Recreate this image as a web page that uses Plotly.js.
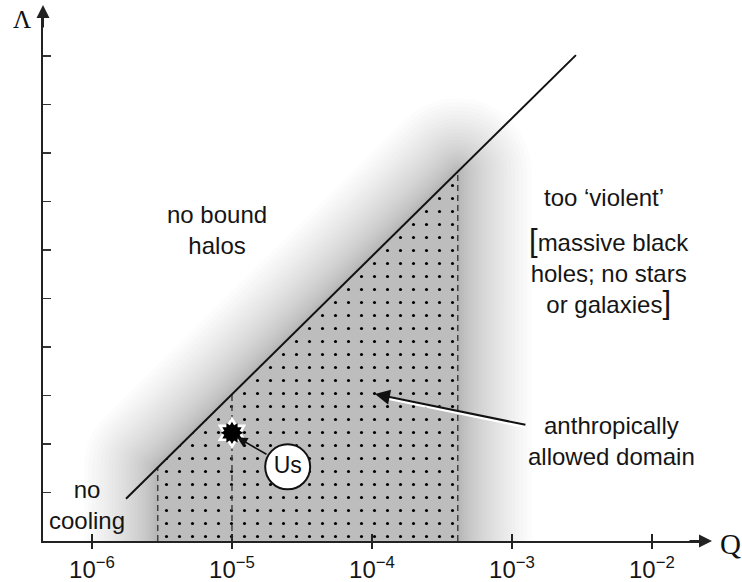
<!DOCTYPE html>
<html><head><meta charset="utf-8">
<script src="https://cdn.plot.ly/plotly-3.0.1.min.js"></script>
<style>body{margin:0;background:#fff}#chart{width:742px;height:582px}</style>
</head><body><div id="chart"></div>
<script>
// ---- data ----
const lineQ = [Math.pow(10,-5.757), Math.pow(10,-2.543)];   // boundary line end points (Q)
const lineL = [0.87, 10.02];                                  // boundary line end points (Lambda)
const domainQ = [2.95e-6, 4.1e-4];                            // anthropic domain Q limits (dashed)
const usQ = 1e-5;                                             // "Us" position
const usL = 2.23;
const usLabelQ = 2.5e-5, usLabelL = 1.53;
const xTickVals = [1e-6, 1e-5, 1e-4, 1e-3, 1e-2];
const xTickText = ['10<sup>−6</sup>','10<sup>−5</sup>','10<sup>−4</sup>','10<sup>−3</sup>','10<sup>−2</sup>'];
const yTickVals = [1,2,3,4,5,6,7,8,9,10];

// ---- layout constants ----
const W = 742, H = 582, mL = 43, mR = 37, mT = 10, mB = 41;
const xr = [-6.35, -1.621], yr = [0, 10.95];
const plotW = W - mL - mR, plotH = H - mT - mB;
const KX = plotW / (xr[1]-xr[0]), KY = plotH / (yr[1]-yr[0]);
const lg = Math.log10;
const u0 = lg(lineQ[0]), u1 = lg(lineQ[1]);
const Lfun = u => lineL[0] + (lineL[1]-lineL[0])*(u-u0)/(u1-u0);
const uL = lg(domainQ[0]), uR = lg(domainQ[1]);

// domain polygon (data)
const domU = [uL, uR, uR, uL];
const domY = [-0.5, -0.5, Lfun(uR), Lfun(uL)];

// expanded polygon (rounded offset) computed in pixel space
function expand(us, ys, r){
  const P = us.map((u,i)=>[u*KX, ys[i]*KY]);
  const n = P.length, outX = [], outY = [];
  for(let i=0;i<n;i++){
    const a = P[(i-1+n)%n], b = P[i], c = P[(i+1)%n];
    const e1 = [b[0]-a[0], b[1]-a[1]], e2 = [c[0]-b[0], c[1]-b[1]];
    let a1 = Math.atan2(-e1[0], e1[1]), a2 = Math.atan2(-e2[0], e2[1]);
    if(a2 < a1) a2 += 2*Math.PI;
    const steps = 12;
    for(let s=0;s<=steps;s++){
      const t = a1 + (a2-a1)*s/steps;
      outX.push(Math.pow(10,(b[0]+r*Math.cos(t))/KX));
      outY.push((b[1]+r*Math.sin(t))/KY);
    }
  }
  outX.push(outX[0]); outY.push(outY[0]);
  return {x: outX, y: outY};
}

const traces = [];
const N = 26, R = 74;
for(let k=1;k<=N;k++){
  const r = R*Math.pow(k/N, 1.5);
  const p = expand(domU, domY, r);
  traces.push({x:p.x, y:p.y, mode:'lines', fill:'toself', line:{width:0},
    fillcolor:'rgba(0,0,0,0.0105)', hoverinfo:'skip', showlegend:false});
}
const domQ = domU.map(u=>Math.pow(10,u)).concat([Math.pow(10,domU[0])]);
const domYc = domY.concat([domY[0]]);
traces.push({x:domQ, y:domYc, mode:'lines', fill:'toself', line:{width:0},
  fillcolor:'#bdbdbd', hoverinfo:'skip', showlegend:false});
[13].forEach(s=>{
  traces.push({x:domQ, y:domYc, mode:'lines', fill:'toself', line:{width:0},
    fillcolor:'rgba(0,0,0,0)', fillpattern:{shape:'.', size:s, solidity:Math.PI*1.55*1.55/(s*s), fgcolor:'#000', bgcolor:'rgba(0,0,0,0)'},
    hoverinfo:'skip', showlegend:false});
});
// dashed verticals
[domainQ[0], usQ, domainQ[1]].forEach(q=>{
  traces.push({x:[q,q], y:[0, Lfun(lg(q))], mode:'lines',
    line:{color:'#444', width:1.5, dash:'6px,4px'}, hoverinfo:'skip', showlegend:false});
});
// boundary line
traces.push({x:lineQ, y:lineL, mode:'lines', line:{color:'#111', width:2}, hoverinfo:'skip', showlegend:false});
// Us star
traces.push({x:[usQ], y:[usL], mode:'markers', marker:{symbol:'hexagram', size:25, color:'#fff', line:{width:0}}, hoverinfo:'skip', showlegend:false});
traces.push({x:[usQ], y:[usL], mode:'markers', marker:{symbol:'hexagram', size:17, color:'#000', angle:0, line:{width:0}}, hoverinfo:'skip', showlegend:false});
traces.push({x:[usQ], y:[usL], mode:'markers', marker:{symbol:'hexagram', size:17, color:'#000', angle:30, line:{width:0}}, hoverinfo:'skip', showlegend:false});
// Us label circle
traces.push({x:[usLabelQ], y:[usLabelL], mode:'markers+text', text:['Us'], textposition:'middle center',
  textfont:{family:'Liberation Sans, Arial, sans-serif', size:23, color:'#111'},
  marker:{symbol:'circle', size:45, color:'#fff', line:{color:'#111', width:2}}, hoverinfo:'skip', showlegend:false, cliponaxis:false});

const F = 'Liberation Sans, Arial, Helvetica, sans-serif';
const tf = {family:F, size:24, color:'#151515'};
const ann = [
  {xref:'x', yref:'y', x:-5.107, y:6.41, text:'no bound<br>halos', showarrow:false, font:tf},
  {xref:'x', yref:'y', x:-2.343, y:7.09, text:'too ‘violent’', showarrow:false, font:tf},
  {xref:'x', yref:'y', x:-2.31, y:5.55, text:'<span style="font-size:31px">[</span>massive black<br>holes; no stars<br>or galaxies<span style="font-size:31px">]</span>', showarrow:false, font:tf},
  {xref:'x', yref:'y', x:-2.286, y:2.06, text:'anthropically<br>allowed domain', showarrow:false, font:tf},
  {xref:'x', yref:'y', x:-6.036, y:0.74, text:'no<br>cooling', showarrow:false, font:tf},
  // arrow to domain (white highlight then black)
  {xref:'x', yref:'y', axref:'x', ayref:'y', x:-3.93, y:2.98, ax:-2.893, ay:2.36, text:'', showarrow:true,
    arrowhead:0, arrowwidth:4, arrowcolor:'#fff'},
  {xref:'x', yref:'y', axref:'x', ayref:'y', x:-3.979, y:3.03, ax:-2.893, ay:2.39, text:'', showarrow:true,
    arrowhead:2, arrowsize:1.5, arrowwidth:2, arrowcolor:'#111'},
  // arrow from Us to star
  {xref:'x', yref:'y', axref:'x', ayref:'y', x:-4.964, y:2.14, ax:-4.743, ay:1.77, text:'', showarrow:true,
    arrowhead:2, arrowsize:1.3, arrowwidth:1.6, arrowcolor:'#111'},
  // axis arrows
  {xref:'paper', yref:'paper', x:(712-mL)/plotW, y:0, ax:-24, ay:0, text:'', showarrow:true,
    arrowhead:2, arrowsize:1.3, arrowwidth:2, arrowcolor:'#222'},
  {xref:'paper', yref:'paper', x:0, y:1+5/plotH, ax:0, ay:24, text:'', showarrow:true,
    arrowhead:2, arrowsize:1.3, arrowwidth:2, arrowcolor:'#222'},
  // axis names
  {xref:'paper', yref:'paper', x:(22-mL)/plotW, y:1-(20-mT)/plotH, xanchor:'center', yanchor:'middle', text:'Λ', showarrow:false,
    font:{family:'Liberation Serif, Times New Roman, serif', size:25, color:'#111'}},
  {xref:'paper', yref:'paper', x:(730-mL)/plotW, y:-(544-mT-plotH)/plotH, xanchor:'center', yanchor:'middle', text:'Q', showarrow:false,
    font:{family:'Liberation Serif, Times New Roman, serif', size:29, color:'#111'}}
];

const layout = {
  width:W, height:H, margin:{l:mL, r:mR, t:mT, b:mB, pad:0},
  paper_bgcolor:'#fff', plot_bgcolor:'rgba(0,0,0,0)', showlegend:false,
  xaxis:{type:'log', range:xr, showgrid:false, zeroline:false, showline:true, linecolor:'#222', linewidth:2,
    tickvals:xTickVals, ticktext:xTickText, ticks:'outside', ticklen:6, tickwidth:1.5, tickcolor:'#222',
    tickfont:{family:F, size:24, color:'#151515'}, fixedrange:true},
  xaxis2:{type:'log', range:xr, overlaying:'x', showgrid:false, zeroline:false, showline:false,
    tickvals:xTickVals, ticks:'inside', ticklen:7, tickwidth:1.5, tickcolor:'#222', showticklabels:false, side:'bottom', anchor:'y'},
  yaxis:{range:yr, showgrid:false, zeroline:false, showline:true, linecolor:'#222', linewidth:2,
    tickvals:yTickVals, ticks:'inside', ticklen:8, tickwidth:1.5, tickcolor:'#333', showticklabels:false, fixedrange:true},
  annotations:ann
};
traces.push({x:[1e-6], y:[0], xaxis:'x2', yaxis:'y', mode:'markers', marker:{opacity:0}, hoverinfo:'skip', showlegend:false});
Plotly.newPlot('chart', traces, layout, {staticPlot:true, displayModeBar:false});
</script></body></html>
